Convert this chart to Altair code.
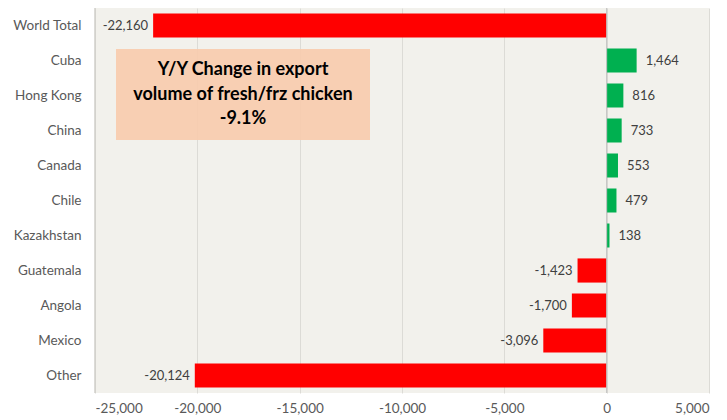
import altair as alt
import pandas as pd

categories = ["World Total", "Cuba", "Hong Kong", "China", "Canada", "Chile",
              "Kazakhstan", "Guatemala", "Angola", "Mexico", "Other"]
values = [-22160, 1464, 816, 733, 553, 479, 138, -1423, -1700, -3096, -20124]
x_ticks = [-25000, -20000, -15000, -10000, -5000, 0, 5000]
box_lines = ["Y/Y Change in export", "volume of fresh/frz chicken", "-9.1%"]

df = pd.DataFrame({"cat": categories, "val": values})
df["label"] = df["val"].map(lambda v: f"{v:,}")
df["sign"] = df["val"].map(lambda v: "neg" if v < 0 else "pos")

FONT = "Lato"
W, H = 614, 385

xscale = alt.Scale(domain=[-25000, 5000], nice=False, zero=False)
xaxis = alt.Axis(values=x_ticks,
                 labelExpr="replace(format(datum.value, ',.0f'), '\u2212', '-')",
                 labelFont=FONT, labelFontSize=13.5,
                 labelColor="#595959", ticks=False, domain=False,
                 grid=True, gridColor="#DCDBD6", labelPadding=8)
xenc = alt.X("val:Q", scale=xscale, title=None, axis=xaxis)
yenc = alt.Y("cat:N", sort=categories, title=None,
             scale=alt.Scale(paddingInner=0.31, paddingOuter=0.155),
             axis=alt.Axis(labelFont=FONT, labelFontSize=13.5, labelColor="#595959",
                           ticks=False, domain=False, labelPadding=14))

bars = alt.Chart(df).mark_bar().encode(
    x=xenc,
    x2=alt.datum(0),
    y=yenc,
    color=alt.Color("sign:N", scale=alt.Scale(domain=["neg", "pos"], range=["#FF0000", "#00B050"]),
                    legend=None),
)

neg_labels = alt.Chart(df[df["val"] < 0]).mark_text(
    align="right", dx=-5, font=FONT, fontSize=13, color="#404040"
).encode(x=xenc, y=yenc, text="label:N")

pos_labels = alt.Chart(df[df["val"] >= 0]).mark_text(
    align="left", dx=9, font=FONT, fontSize=13, color="#404040"
).encode(x=xenc, y=yenc, text="label:N")

zero_rule = alt.Chart(pd.DataFrame({"val": [0]})).mark_rule(color="#BFBFBF", strokeWidth=1).encode(
    x=xenc)

left_rule = alt.Chart(pd.DataFrame({"val": [-25000]})).mark_rule(color="#D0CFCA", strokeWidth=1.5).encode(
    x=xenc)

box = alt.Chart(pd.DataFrame({"a": [1]})).mark_rect(color="#F8CBAD", opacity=0.9).encode(
    x=alt.value(21), x2=alt.value(275), y=alt.value(41), y2=alt.value(132))

box_texts = [
    alt.Chart(pd.DataFrame({"t": [t]})).mark_text(
        font=FONT, fontSize=18, fontWeight="bold", color="#000000", align="center", baseline="middle"
    ).encode(x=alt.value(148), y=alt.value(y), text="t:N")
    for t, y in zip(box_lines, [62, 87, 111])
]

chart = alt.layer(bars, zero_rule, left_rule, neg_labels, pos_labels, box, *box_texts).properties(
    width=W, height=H,
    autosize=alt.AutoSizeParams(type="none"),
    padding={"left": 87, "top": 0, "right": 10, "bottom": 30},
    background="#FFFFFF",
).configure_view(fill="#F2F1EC", stroke=None)

chart.save("out.html", embed_options={"renderer": "svg", "actions": False})
